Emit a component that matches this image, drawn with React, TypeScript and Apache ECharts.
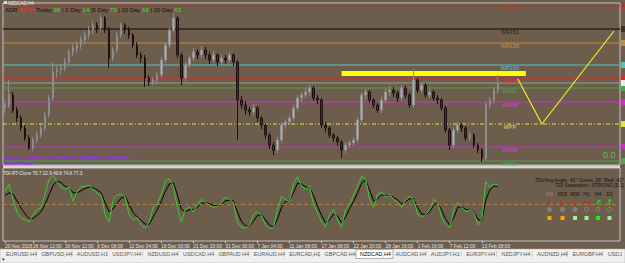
import React, { useEffect, useRef } from "react";
import * as echarts from "echarts";

// ---------- data ----------
// candles: [open, close, low, high] (NZDCAD H4, 3 bars aggregated per candle)
const candles: number[][] = [
  [0.9050,0.9056,0.9040,0.9064],[0.9056,0.9076,0.9050,0.9106],[0.9076,0.9046,0.9040,0.9082],[0.9046,0.9030,0.9022,0.9052],
  [0.9030,0.9010,0.9004,0.9036],[0.9010,0.8990,0.8984,0.9016],[0.8990,0.8970,0.8966,0.8996],[0.8970,0.8986,0.8964,0.8992],
  [0.8986,0.8996,0.8980,0.9004],[0.8996,0.9010,0.8990,0.9016],[0.9010,0.9036,0.9004,0.9042],[0.9036,0.9070,0.9030,0.9076],
  [0.9070,0.9122,0.9064,0.9142],[0.9122,0.9126,0.9110,0.9134],[0.9126,0.9130,0.9116,0.9138],[0.9130,0.9142,0.9124,0.9150],
  [0.9142,0.9162,0.9136,0.9168],[0.9162,0.9170,0.9154,0.9178],[0.9170,0.9176,0.9160,0.9184],[0.9176,0.9186,0.9168,0.9194],
  [0.9186,0.9196,0.9178,0.9204],[0.9196,0.9206,0.9188,0.9214],[0.9206,0.9216,0.9198,0.9224],[0.9216,0.9210,0.9200,0.9222],
  [0.9210,0.9230,0.9204,0.9236],[0.9230,0.9206,0.9200,0.9234],[0.9206,0.9150,0.9130,0.9212],[0.9150,0.9166,0.9144,0.9172],
  [0.9166,0.9196,0.9160,0.9202],[0.9196,0.9216,0.9190,0.9220],[0.9216,0.9206,0.9198,0.9220],[0.9206,0.9196,0.9188,0.9212],
  [0.9196,0.9176,0.9170,0.9200],[0.9176,0.9156,0.9150,0.9182],[0.9156,0.9150,0.9140,0.9162],[0.9150,0.9110,0.9092,0.9156],
  [0.9110,0.9102,0.9094,0.9116],[0.9102,0.9106,0.9096,0.9112],[0.9106,0.9116,0.9100,0.9122],[0.9116,0.9146,0.9110,0.9152],
  [0.9146,0.9176,0.9140,0.9182],[0.9176,0.9206,0.9170,0.9212],[0.9206,0.9230,0.9200,0.9240],[0.9230,0.9156,0.9150,0.9234],
  [0.9156,0.9110,0.9096,0.9160],[0.9110,0.9136,0.9104,0.9142],[0.9136,0.9150,0.9130,0.9156],[0.9150,0.9162,0.9144,0.9170],
  [0.9162,0.9156,0.9148,0.9168],[0.9156,0.9166,0.9150,0.9174],[0.9166,0.9156,0.9148,0.9172],[0.9156,0.9146,0.9138,0.9162],
  [0.9146,0.9156,0.9140,0.9164],[0.9156,0.9142,0.9134,0.9160],[0.9142,0.9150,0.9136,0.9158],[0.9150,0.9146,0.9138,0.9156],
  [0.9146,0.9156,0.9140,0.9162],[0.9156,0.9142,0.9134,0.9160],[0.9142,0.9066,0.8986,0.9146],[0.9066,0.9056,0.9048,0.9074],
  [0.9056,0.9046,0.9036,0.9064],[0.9046,0.9042,0.9034,0.9052],[0.9042,0.9050,0.9036,0.9058],[0.9050,0.9030,0.9022,0.9054],
  [0.9030,0.9016,0.9008,0.9034],[0.9016,0.8996,0.8988,0.9020],[0.8996,0.8976,0.8968,0.9000],[0.8976,0.8966,0.8956,0.8982],
  [0.8966,0.8986,0.8960,0.8992],[0.8986,0.9016,0.8980,0.9022],[0.9016,0.9022,0.9008,0.9028],[0.9022,0.9030,0.9016,0.9036],
  [0.9030,0.9050,0.9024,0.9056],[0.9050,0.9070,0.9044,0.9076],[0.9070,0.9076,0.9062,0.9082],[0.9076,0.9082,0.9070,0.9088],
  [0.9082,0.9090,0.9074,0.9096],[0.9090,0.9070,0.9064,0.9094],[0.9070,0.9066,0.9058,0.9076],[0.9066,0.9016,0.9010,0.9070],
  [0.9016,0.9010,0.9002,0.9022],[0.9010,0.8996,0.8990,0.9014],[0.8996,0.8990,0.8982,0.9000],[0.8990,0.8982,0.8974,0.8994],
  [0.8982,0.8966,0.8950,0.8986],[0.8966,0.8976,0.8960,0.8982],[0.8976,0.8980,0.8970,0.8986],[0.8980,0.8986,0.8974,0.8992],
  [0.8986,0.9026,0.8980,0.9032],[0.9026,0.9076,0.9020,0.9082],[0.9076,0.9082,0.9068,0.9088],[0.9082,0.9066,0.9060,0.9086],
  [0.9066,0.9056,0.9050,0.9070],[0.9056,0.9046,0.9040,0.9060],[0.9046,0.9066,0.9040,0.9072],[0.9066,0.9082,0.9060,0.9088],
  [0.9082,0.9086,0.9074,0.9094],[0.9086,0.9080,0.9072,0.9092],[0.9080,0.9070,0.9062,0.9084],[0.9070,0.9090,0.9064,0.9096],
  [0.9090,0.9076,0.9070,0.9094],[0.9076,0.9056,0.9050,0.9080],[0.9056,0.9106,0.9050,0.9126],[0.9106,0.9086,0.9080,0.9110],
  [0.9086,0.9096,0.9080,0.9102],[0.9096,0.9076,0.9070,0.9100],[0.9076,0.9082,0.9070,0.9088],[0.9082,0.9070,0.9064,0.9086],
  [0.9070,0.9066,0.9058,0.9076],[0.9066,0.9050,0.9044,0.9070],[0.9050,0.9006,0.9000,0.9054],[0.9006,0.8976,0.8966,0.9010],
  [0.8976,0.9006,0.8970,0.9012],[0.9006,0.9016,0.9000,0.9022],[0.9016,0.9010,0.9002,0.9020],[0.9010,0.8990,0.8984,0.9014],
  [0.8990,0.8996,0.8984,0.9002],[0.8996,0.8976,0.8970,0.9000],[0.8976,0.8966,0.8960,0.8980],[0.8966,0.8950,0.8942,0.8970],
  [0.8950,0.9056,0.8946,0.9062],[0.9056,0.9066,0.9050,0.9072],[0.9066,0.9086,0.9060,0.9092],[0.9086,0.9100,0.9080,0.9116],
];

const tdiGreen = [
  68,78,57,39,32,29,26,36,43,46,64,85,90,81,74,71,74,54,68,74,75,76,71,65,63,36,26,57,63,64,
  60,36,29,32,22,18,26,47,51,64,82,85,76,46,26,43,47,40,50,57,53,49,46,47,53,60,57,53,26,18,
  18,21,36,40,35,22,17,18,43,61,57,54,78,88,75,71,76,50,39,26,19,36,43,29,19,43,50,63,75,89,
  85,57,46,64,67,60,64,57,53,46,57,61,57,36,33,36,43,57,53,32,22,18,43,53,46,40,43,39,22,29,
  81,74,78,77,
];
const tdiBlack = [
  62,66,64,55,45,37,31,31,35,40,50,63,76,82,80,75,73,66,66,69,72,74,73,70,66,52,40,44,52,59,
  61,50,39,33,28,23,23,33,43,54,68,78,80,64,44,40,43,43,46,51,53,51,49,48,50,55,56,55,40,27,
  21,20,27,35,36,29,22,19,30,46,54,56,66,79,78,74,74,62,48,35,25,29,37,34,25,33,44,54,66,79,
  84,70,55,58,63,62,63,60,56,51,54,58,58,46,37,36,40,49,53,42,30,22,32,46,47,43,43,40,30,27,
  56,70,75,75,
];
const tdiMidLevel = 50;

const levelNames = ["WR200", "WR161", "WR138", "WR100", "WR78", "WR61", "WR38", "WPP", "WS38", "WS61"];
const levelValues = [0.9254, 0.9208, 0.918, 0.9136, 0.911, 0.909, 0.9062, 0.9018, 0.8972, 0.8944];
const bidPrice = 0.91;
// projected path drawn in yellow: [candle index, price]
const projection = [[128, 0.9108], [134, 0.9018], [152, 0.9204]];
// yellow zone: from candle 84 to candle 130, price band
const zoneStart = [84, 0.9124];
const zoneEnd = [130, 0.9114];

const dateLabels = [
  "20 Nov 2018", "26 Nov 12:00", "30 Nov 12:00", "6 Dec 08:00", "12 Dec 04:00", "18 Dec 00:00",
  "21 Dec 20:00", "31 Dec 00:00", "7 Jan 04:00", "11 Jan 08:00", "17 Jan 08:00", "22 Jan 20:00",
  "28 Jan 16:00", "1 Feb 16:00", "7 Feb 12:00", "13 Feb 08:00",
];
const dateLabelIndex = [0, 7, 15, 23, 31, 39, 47, 55, 63, 71, 79, 87, 95, 103, 111, 119];
const categoryCount = 154;

const tabs = [
  "EURUSD,H4", "GBPUSD,H4", "AUDUSD,H1", "USDJPY,H4", "NZDUSD,H4", "USDCAD,H4", "GBPAUD,H4", "EURAUD,H4",
  "EURCAD,H1", "GBPCAD,H4", "NZDCAD,H4", "AUDCAD,H4", "AUDJPY,H1", "EURJPY,H4", "NZDJPY,H4", "AUDNZD,H4",
  "EURGBP,H4", "USDJPY,H1",
];
const activeTab = "NZDCAD,H4";

const timeframes = ["M5", "M15", "M30", "H1", "H4", "D1"];
const tfArrows = ["↓", "↘", "↓", "↘", "↗", "↑"];
const tdiSummary = "TDI/Avg Angle: 41° Green: 26° Red: 41°";
const tdiSeparation = "TDI Separation: STRONG [5.1]";
const tdiHeader = "TDI-RT-Clone 76.7 22.9 49.8 74.8 77.3";
const adrParts: [string, string][] = [
  ["ADR ", "k"], ["81 94", "r"], [" Today ", "k"], ["98", "g"], [" | 1 Day ", "k"], ["14", "g"],
  [" |5 Day ", "k"], ["73", "g"], [" | 10 Day ", "k"], ["66", "g"], [" | 20 Day ", "k"], ["63", "g"],
];

// ---------- styles ----------
const BG = "#6d5d4d";
const FONT = "'Liberation Sans', Arial, sans-serif";
const levelLineColors = ["#b03a2e", "#3e3128", "#c98a3a", "#4fc6c6", "#e02828", "#3fae3f", "#d62ad6", "#e6e62a", "#c82cc8", "#4ca84c"];
const levelTextColors = ["#b83a2e", "#111111", "#e89a30", "#40e0e0", "#ff2020", "#40c040", "#ff30ff", "#ffff30", "#ff30ff", "#40c040"];
const tfArrowColors = ["#ff1010", "#ff1010", "#ff1010", "#ff1010", "#20e020", "#20e020"];
const tfSquareColors = ["#ffa500", "#ffa500", "#98f098", "#98f098", "#00ff00", "#98f098"];

export default function App() {
  const ref = useRef<HTMLDivElement>(null);
  useEffect(() => {
    document.body.style.margin = "0";
    const chart = echarts.init(ref.current!, null, { renderer: "svg" });
    const cats = Array.from({ length: categoryCount }, (_, i) => String(i));
    const labelMap: Record<number, string> = {};
    dateLabelIndex.forEach((idx, k) => (labelMap[idx] = dateLabels[k]));

    const option: any = {
      animation: false,
      backgroundColor: BG,
      textStyle: { fontFamily: FONT },
      grid: [
        { left: 3, top: 3, width: 617, height: 162, show: true, borderColor: "#c4c4c4", borderWidth: 1 },
        { left: 3, top: 168, width: 617, height: 73, show: true, borderColor: "#c4c4c4", borderWidth: 1 },
      ],
      xAxis: [
        { type: "category", gridIndex: 0, data: cats, boundaryGap: true, axisLine: { show: false }, axisTick: { show: false }, axisLabel: { show: false }, splitLine: { show: false } },
        {
          type: "category", gridIndex: 1, data: cats, boundaryGap: true,
          axisLine: { show: false },
          axisTick: { show: true, length: 2, lineStyle: { color: "#d0d0d0" }, interval: (i: number) => labelMap[i] !== undefined, alignWithLabel: true },
          axisLabel: {
            show: true, interval: (i: number) => labelMap[i] !== undefined,
            formatter: (_v: string, i: number) => labelMap[i] || "",
            color: "#e6e6e6", fontSize: 4.8, fontFamily: FONT, align: "left", margin: 3,
            showMinLabel: true, hideOverlap: false,
          },
          splitLine: { show: false },
        },
      ],
      yAxis: [
        { type: "value", gridIndex: 0, min: 0.8936, max: 0.926, show: false, axisLine: { show: false }, splitLine: { show: false } },
        { type: "value", gridIndex: 1, min: 0, max: 100, show: false, axisLine: { show: false }, splitLine: { show: false } },
      ],
      series: [
        {
          type: "candlestick", xAxisIndex: 0, yAxisIndex: 0, data: candles, barWidth: 2, z: 3,
          itemStyle: { color: "#b4b4b4", color0: "#6a1e1e", borderColor: "#8c8c8c", borderColor0: "#201010", borderWidth: 1 },
          markArea: {
            silent: true,
            itemStyle: { color: "#ffff00", opacity: 1 },
            data: [[{ coord: zoneStart }, { coord: zoneEnd }]],
          },
        },
        {
          type: "line", xAxisIndex: 0, yAxisIndex: 0, data: projection, symbol: "none", z: 5,
          lineStyle: { color: "#f0f020", width: 1.2 },
        },
        {
          type: "scatter", xAxisIndex: 0, yAxisIndex: 0, symbolSize: 0, silent: true, z: 6,
          data: levelValues.map((v, i) => ({
            value: [126, v], name: levelNames[i],
            label: { color: levelTextColors[i] },
          })),
          label: {
            show: true, position: "inside", offset: [0, 3], formatter: "{b}", fontSize: 5.5, fontFamily: FONT,
          },
        },
        {
          type: "line", xAxisIndex: 1, yAxisIndex: 1, data: tdiBlack, symbol: "none",
          lineStyle: { color: "#000000", width: 1 },
          markLine: {
            silent: true, symbol: ["none", "none"], label: { show: false },
            data: [{ yAxis: tdiMidLevel }],
            lineStyle: { color: "#b08040", type: [4, 3], width: 1 },
          },
        },
        {
          type: "line", xAxisIndex: 1, yAxisIndex: 1, data: tdiGreen, symbol: "none",
          lineStyle: { color: "#30d030", width: 1 },
        },
      ],
    };
    chart.setOption(option);

    const g: any[] = [];
    // level lines and right price-scale boxes, positioned through the price axis
    levelValues.forEach((v, i) => {
      const y = chart.convertToPixel({ yAxisIndex: 0 }, v) as number;
      g.push({
        type: "line", z: 1, silent: true,
        shape: { x1: 3, y1: y, x2: 620, y2: y },
        style: { stroke: levelLineColors[i], lineWidth: i === 1 ? 2 : 1, lineDash: i === 7 ? [4, 2, 1, 2] : null },
      });
      g.push({ type: "rect", shape: { x: 621, y: y - 3, width: 4, height: 6 }, style: { fill: levelLineColors[i] }, silent: true });
    });
    const by = chart.convertToPixel({ yAxisIndex: 0 }, bidPrice) as number;
    g.push({ type: "line", z: 1, silent: true, shape: { x1: 3, y1: by, x2: 620, y2: by }, style: { stroke: "#a09a94", lineWidth: 1 } });
    g.push({ type: "rect", shape: { x: 621, y: by - 3, width: 4, height: 6 }, style: { fill: "#e8e8e8" }, silent: true });

    // chart title & ADR
    g.push({ type: "rect", shape: { x: 4, y: 1, width: 3, height: 3 }, style: { fill: "#dddddd" }, silent: true });
    g.push({ type: "text", x: 8, y: 0.5, style: { text: "NZDCAD,H4", fill: "#f0f0f0", fontSize: 4.5, fontFamily: FONT }, silent: true });
    g.push({
      type: "text", x: 5, y: 6.5, silent: true,
      style: {
        text: adrParts.map(([t, c]) => `{${c}|${t}}`).join(""),
        fontSize: 6, fontFamily: FONT,
        rich: { k: { fill: "#111111", fontSize: 6 }, r: { fill: "#ff2a2a", fontSize: 6 }, g: { fill: "#30e030", fontSize: 6 } },
      },
    });

    // event text
    g.push({ type: "text", x: 4, y: 154, silent: true, style: { text: "Event 1: Additional events not currently scheduled", fill: "#9a32e8", fontSize: 5.2, fontWeight: "bold", fontFamily: FONT } });
    g.push({ type: "text", x: 4, y: 160, silent: true, style: { text: "broken until -", fill: "#9a32e8", fontSize: 5.2, fontWeight: "bold", fontFamily: FONT } });
    g.push({ type: "text", x: 603, y: 150, silent: true, style: { text: "0.0", fill: "#3cd03c", fontSize: 9, fontFamily: FONT } });

    // TDI texts
    g.push({ type: "text", x: 3, y: 170.5, silent: true, style: { text: tdiHeader, fill: "#e8e8e8", fontSize: 4.6, fontFamily: FONT } });
    g.push({ type: "text", x: 535, y: 177.5, silent: true, style: { text: tdiSummary, fill: "#111111", fontSize: 5, fontFamily: FONT } });
    g.push({ type: "text", x: 555, y: 182.5, silent: true, style: { text: tdiSeparation, fill: "#111111", fontSize: 5, fontFamily: FONT } });
    const tfX = [549.5, 562.5, 575, 586.5, 598, 609.5];
    timeframes.forEach((tf, i) => {
      g.push({ type: "text", x: tfX[i], y: 194, silent: true, style: { text: tf, fill: i === 0 ? "#9c8c7c" : "#111111", fontSize: 5, fontFamily: FONT, align: "center", verticalAlign: "middle" } });
      g.push({ type: "text", x: tfX[i], y: 202, silent: true, style: { text: tfArrows[i], fill: tfArrowColors[i], fontSize: 8, fontWeight: "bold", fontFamily: "'DejaVu Sans', sans-serif", align: "center", verticalAlign: "middle" } });
      g.push({ type: "circle", shape: { cx: tfX[i], cy: 209.5, r: 2 }, silent: true, style: { fill: i < 3 ? "#7c7c7c" : "rgba(0,0,0,0)", stroke: "#8e8e8e", lineWidth: 0.8 } });
      g.push({ type: "rect", shape: { x: tfX[i] - 2, y: 216, width: 4, height: 4 }, silent: true, style: { fill: tfSquareColors[i] } });
    });

    // separator between panes
    g.push({ type: "rect", shape: { x: 3, y: 165.5, width: 617, height: 2.5 }, style: { fill: "#d8d8d8" }, silent: true });

    // tab bar
    g.push({ type: "rect", shape: { x: 0, y: 249, width: 625, height: 14 }, style: { fill: "#f0f0f0", stroke: "#a8a8a8", lineWidth: 0.5 }, silent: true });
    tabs.forEach((t, i) => {
      const x = 6 + i * 35.4;
      if (t === activeTab) {
        g.push({ type: "rect", shape: { x: x - 4, y: 249.5, width: 37, height: 9 }, style: { fill: "#ffffff", stroke: "#808080", lineWidth: 0.6 }, silent: true });
      } else if (i > 0) {
        g.push({ type: "line", shape: { x1: x - 5, y1: 251, x2: x - 5, y2: 257 }, style: { stroke: "#b0b0b0", lineWidth: 0.6 }, silent: true });
      }
      const room = 623 - x;
      g.push({
        type: "text", x, y: 254, silent: true,
        style: {
          text: t, fill: t === activeTab ? "#000000" : "#555555", fontSize: 5.4, fontFamily: FONT, verticalAlign: "middle",
          width: room < 30 ? room : undefined, overflow: room < 30 ? "truncate" : undefined, ellipsis: "",
        },
      });
    });
    g.push({ type: "text", x: 2, y: 258.5, silent: true, style: { text: "▾", fill: "#333", fontSize: 5, fontFamily: "'DejaVu Sans', sans-serif", verticalAlign: "middle" } });

    chart.setOption({ graphic: g });
    return () => chart.dispose();
  }, []);
  return <div ref={ref} style={{ width: 625, height: 263 }} />;
}
